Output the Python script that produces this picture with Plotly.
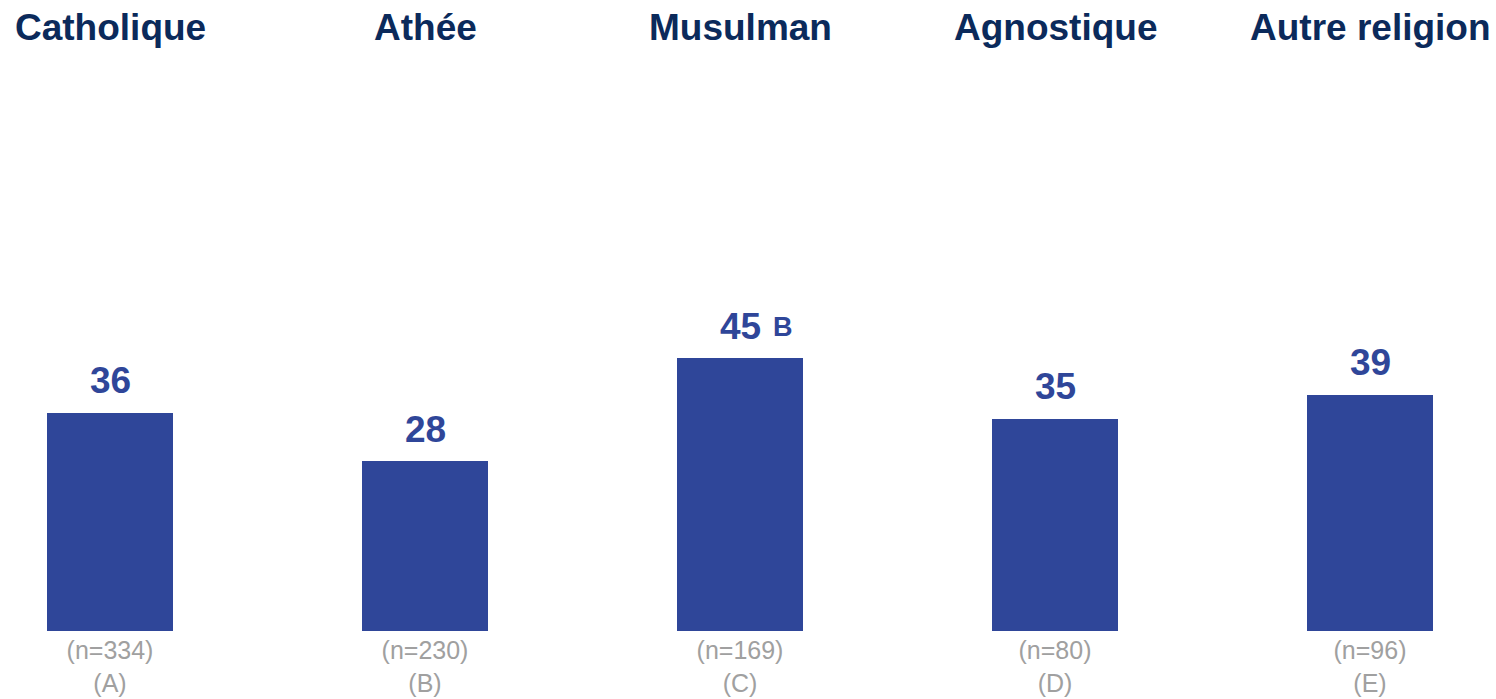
import plotly.graph_objects as go

# Dane
groups = ["Catholique", "Athée", "Musulman", "Agnostique", "Autre religion"]
values = [36, 28, 45, 35, 39]
sig_letters = ["", "", "B", "", ""]
n_labels = ["(n=334)", "(n=230)", "(n=169)", "(n=80)", "(n=96)"]
col_letters = ["(A)", "(B)", "(C)", "(D)", "(E)"]

FONT = "Arial, Liberation Sans, sans-serif"
BAR = "#2f4699"
NAVY = "#0b2a5b"
GREY = "#a0a0a0"

W, H = 1496, 699
X0 = 110          # pixel de la premiere categorie
STEP = 315        # pixels entre categories
PLOT_H = 631      # hauteur zone de trace
PX_PER_UNIT = 6.06

xpos = list(range(len(groups)))

fig = go.Figure()
fig.add_trace(go.Bar(
    x=xpos,
    y=values,
    width=0.4,
    marker=dict(color=BAR, line=dict(width=0)),
    hoverinfo="skip",
))

# Titres des groupes en haut
for x, g in zip(xpos, groups):
    fig.add_annotation(
        x=x, xref="x", y=1 - 28 / PLOT_H, yref="paper",
        text=f"<b>{g}</b>", showarrow=False,
        xanchor="center", yanchor="middle",
        font=dict(family=FONT, size=37, color=NAVY),
    )

# Valeurs au-dessus des barres (+ lettres de significativite)
for x, v, s in zip(xpos, values, sig_letters):
    fig.add_annotation(
        x=x, y=v, text=f"<b>{v}</b>", showarrow=False,
        xanchor="center", yanchor="middle", yshift=32,
        font=dict(family=FONT, size=37, color=BAR),
    )
    if s:
        fig.add_annotation(
            x=x, y=v, text=f"<b>{s}</b>", showarrow=False,
            xanchor="left", yanchor="middle", xshift=31, yshift=31,
            font=dict(family=FONT, size=27, color=BAR),
        )

fig.update_layout(
    width=W, height=H,
    margin=dict(l=0, r=0, t=0, b=H - PLOT_H),
    paper_bgcolor="white", plot_bgcolor="white",
    showlegend=False,
    bargap=0,
    xaxis=dict(
        range=[-X0 / STEP, (W - X0) / STEP],
        tickmode="array", tickvals=xpos,
        ticktext=[f"{n}<br>{c}" for n, c in zip(n_labels, col_letters)],
        tickfont=dict(family=FONT, size=25, color=GREY),
        showgrid=False, zeroline=False, showline=False, ticks="",
        ticklabelstandoff=2, automargin=False,
    ),
    yaxis=dict(
        range=[0, PLOT_H / PX_PER_UNIT], visible=False,
        showgrid=False, zeroline=False, automargin=False,
    ),
)

# pas de marge du body pour que la figure remplisse la fenetre
fig.write_html(
    "out.html",
    config={"displayModeBar": False},
    post_script="document.body.style.margin='0px';document.body.style.overflow='hidden';",
)
